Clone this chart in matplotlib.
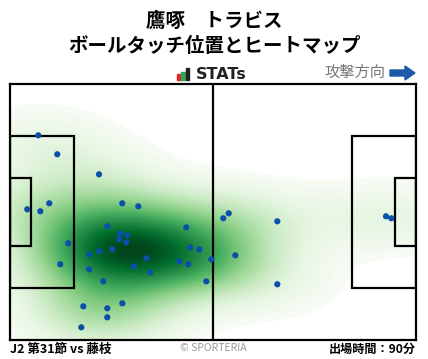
import matplotlib
matplotlib.use("Agg")
import matplotlib.pyplot as plt
import matplotlib.patches as patches
import seaborn as sns
import numpy as np

plt.rcParams['font.family'] = ['Noto Sans CJK JP', 'DejaVu Sans']

# ボールタッチ位置 (105 x 68 のピッチ座標)
touch_x = [7.32, 12.23, 23.02, 10.16, 4.47, 7.84, 29.04, 33.18, 25.16, 28.53,
           30.34, 28.27, 30.08, 15.08, 23.09, 26.46, 20.51, 13.01, 20.51, 32.07,
           35.25, 36.28, 24.13, 45.59, 46.63, 48.96, 43.78, 46.11, 52.06, 50.77,
           18.96, 25.16, 29.04, 25.16, 18.44, 55.16, 56.56, 69.13, 58.27, 69.13,
           97.24, 98.61]
touch_y = [54.37, 49.33, 44.01, 36.31, 34.72, 34.19, 36.31, 35.51, 30.20, 28.34,
           27.81, 26.75, 25.95, 25.69, 23.56, 24.09, 22.76, 20.11, 18.78, 19.58,
           21.70, 17.98, 15.59, 29.94, 24.62, 24.09, 20.90, 20.11, 21.44, 15.59,
           8.95, 8.42, 9.75, 6.03, 3.37, 32.33, 33.65, 31.53, 22.50, 14.80,
           32.86, 32.33]

player = "鷹啄　トラビス"
subtitle = "ボールタッチ位置とヒートマップ"
match_label = "J2 第31節 vs 藤枝"
minutes_label = "出場時間：90分"

W, H = 428, 359
fig = plt.figure(figsize=(W / 100, H / 100), dpi=100)

# ピッチ領域
ax = fig.add_axes([10 / W, (H - 340) / H, 406 / W, 256 / H])
ax.set_xlim(0, 105)
ax.set_ylim(0, 68)
ax.set_xticks([])
ax.set_yticks([])

# ヒートマップ
sns.kdeplot(x=touch_x, y=touch_y, fill=True, cmap='Greens', levels=100, thresh=0.02,
            bw_adjust=1.12, clip=((-5, 110), (-5, 73)), ax=ax, zorder=1)
ax.set_xlim(0, 105)
ax.set_ylim(0, 68)

# ピッチのライン
lw = 1.6
line_kw = dict(fill=False, edgecolor='black', linewidth=lw, zorder=3)
ax.plot([52.5, 52.5], [0, 68], color='black', lw=lw, zorder=3)
ax.add_patch(patches.Rectangle((0, 13.84), 16.5, 40.32, **line_kw))
ax.add_patch(patches.Rectangle((105 - 16.5, 13.84), 16.5, 40.32, **line_kw))
ax.add_patch(patches.Rectangle((0, 24.84), 5.5, 18.32, **line_kw))
ax.add_patch(patches.Rectangle((105 - 5.5, 24.84), 5.5, 18.32, **line_kw))
for s in ax.spines.values():
    s.set_linewidth(lw)
    s.set_zorder(4)

# ボールタッチ
ax.scatter(touch_x, touch_y, s=20, color='#0a50a8', edgecolor='none', zorder=5)

# タイトル
fig.text(214 / W, 1 - 21 / H, player, ha='center', va='center',
         fontsize=14, fontweight='bold')
fig.text(214 / W, 1 - 46 / H, subtitle, ha='center', va='center',
         fontsize=14, fontweight='bold')

# STATs ロゴ
bars = [(177, 6, '#e8262a'), (181, 8, '#2da94f'), (185.5, 12, '#222222')]
for bx, bh, bc in bars:
    fig.patches.append(patches.Rectangle((bx / W, (H - 80) / H), 3.5 / W, bh / H,
                                         transform=fig.transFigure, color=bc))
fig.text(196 / W, 1 - 74.5 / H, "STATs", ha='left', va='center',
         fontsize=11.5, fontweight='bold', color='#222222', family='DejaVu Sans')

# 攻撃方向
fig.text(385 / W, 1 - 72 / H, "攻撃方向", ha='right', va='center',
         fontsize=11, color='#777777')
fig.patches.append(patches.FancyArrow(390 / W, 1 - 73 / H, 25 / W, 0,
                                      width=6 / H, head_width=14 / H, head_length=10 / W,
                                      length_includes_head=True,
                                      transform=fig.transFigure, color='#1e5aa8'))

# フッター
fig.text(10 / W, 1 - 349 / H, match_label, ha='left', va='center',
         fontsize=9, fontweight='bold')
fig.text(213 / W, 1 - 348 / H, "© SPORTERIA", ha='center', va='center',
         fontsize=7.5, color='#999999')
fig.text(416 / W, 1 - 349 / H, minutes_label, ha='right', va='center',
         fontsize=8.7, fontweight='bold')

fig.savefig("out.png", dpi=100)
